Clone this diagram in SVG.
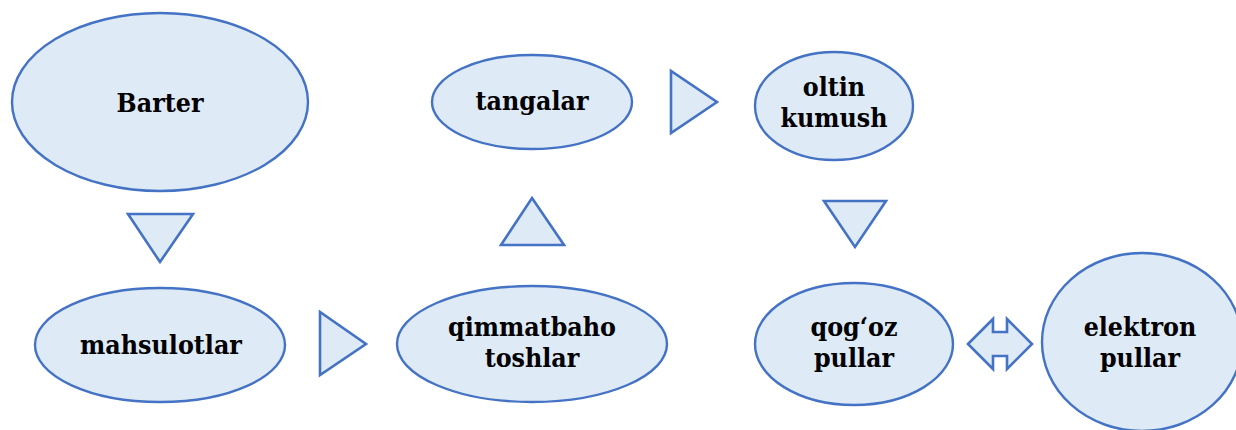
<svg xmlns="http://www.w3.org/2000/svg" width="1236" height="430" viewBox="0 0 1236 430">
<style>
.n{fill:#DEEAF6;stroke:#4472C4;stroke-width:2.4}
.a{fill:#DEEAF6;stroke:#4472C4;stroke-width:2.6;stroke-linejoin:miter}
text{font-family:"DejaVu Serif Condensed","DejaVu Serif","Liberation Serif",serif;font-stretch:condensed;font-weight:bold;font-size:26.5px;fill:#000;text-anchor:middle}
</style>
<rect width="1236" height="430" fill="#fff"/>
<g id="connectors">
<polygon class="a" points="128,214 193,214 160,262"/>
<polygon class="a" points="320,312 320,375 366,344"/>
<polygon class="a" points="532,198 564,245 501,245"/>
<polygon class="a" points="671,71 671,133 717,102"/>
<polygon class="a" points="824,201 886,201 855,247"/>
<polygon class="a" points="968,344 993,319 993,332 1007,332 1007,319 1032,344 1007,369 1007,356 993,356 993,369"/>
</g>
<g id="barter"><ellipse class="n" cx="160" cy="102" rx="148" ry="89"/><text x="160" y="112">Barter</text></g>
<g id="mahsulotlar"><ellipse class="n" cx="160" cy="345" rx="125" ry="57"/><text x="161" y="354">mahsulotlar</text></g>
<g id="qimmatbaho"><ellipse class="n" cx="532" cy="344" rx="135" ry="58"/><text x="532" y="336">qimmatbaho</text><text x="532" y="367">toshlar</text></g>
<g id="tangalar"><ellipse class="n" cx="532" cy="102" rx="100" ry="47"/><text x="532" y="110">tangalar</text></g>
<g id="oltin"><ellipse class="n" cx="834" cy="106" rx="79" ry="54"/><text x="834" y="96">oltin</text><text x="834" y="127">kumush</text></g>
<g id="qogoz"><ellipse class="n" cx="854" cy="344" rx="99" ry="61"/><text x="854" y="336">qog‘oz</text><text x="854" y="367">pullar</text></g>
<g id="elektron"><ellipse class="n" cx="1142" cy="342" rx="100" ry="89"/><text x="1140" y="336">elektron</text><text x="1140" y="367">pullar</text></g>
</svg>
